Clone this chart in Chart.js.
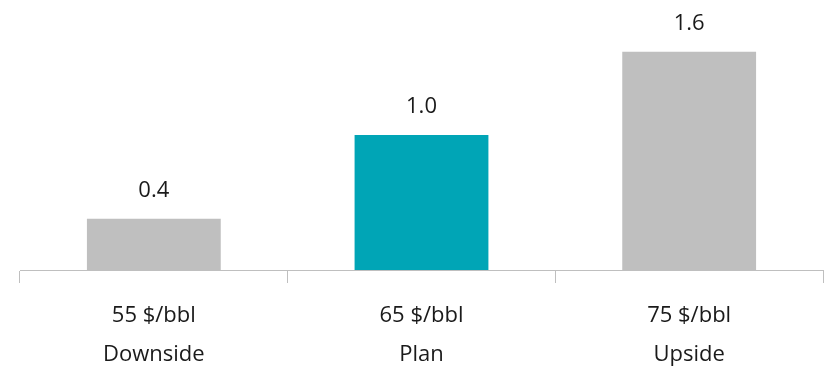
<!DOCTYPE html>
<html><head><meta charset="utf-8">
<script src="https://cdn.jsdelivr.net/npm/chart.js@4/dist/chart.umd.min.js"></script>
<style>html,body{margin:0;padding:0;background:#fff}#wrap{width:830px;height:370px}</style>
</head><body><div id="wrap"><canvas id="c" width="830" height="370"></canvas></div>
<script>
const priceLabels = ['55 $/bbl', '65 $/bbl', '75 $/bbl'];
const scenarioLabels = ['Downside', 'Plan', 'Upside'];
const values = [0.375, 0.99, 1.6];
const barColors = ['#bfbfbf', '#00a5b6', '#bfbfbf'];
const FONT = "'Open Sans', sans-serif";

const valueLabels = {
  id: 'valueLabels',
  afterDatasetsDraw(chart) {
    const ctx = chart.ctx;
    const meta = chart.getDatasetMeta(0);
    ctx.save();
    ctx.font = '22px ' + FONT;
    ctx.fillStyle = '#1a1a1a';
    ctx.textAlign = 'center';
    ctx.textBaseline = 'alphabetic';
    meta.data.forEach((bar, i) => {
      ctx.fillText(values[i].toFixed(1), bar.x, bar.y - 22);
    });
    ctx.restore();
  }
};

new Chart(document.getElementById('c'), {
  type: 'bar',
  data: {
    labels: priceLabels.map((p, i) => [p, scenarioLabels[i]]),
    datasets: [{ data: values, backgroundColor: barColors, barPercentage: 0.5, categoryPercentage: 1.0 }]
  },
  options: {
    responsive: false,
    animation: false,
    layout: { padding: { left: 20, right: 7, top: 0, bottom: 0 } },
    plugins: { legend: { display: false }, tooltip: { enabled: false } },
    scales: {
      x: {
        offset: true,
        afterFit(scale) { scale.height = 100; },
        grid: { offset: true, drawOnChartArea: false, drawTicks: true, tickLength: 13, color: '#bfbfbf', lineWidth: 1 },
        border: { display: true, color: '#bfbfbf', width: 1 },
        ticks: { font: { size: 22, family: FONT, lineHeight: 1.78 }, color: '#1a1a1a', padding: 13 }
      },
      y: { display: false, min: 0, max: 1.98 }
    }
  },
  plugins: [valueLabels]
});
</script></body></html>
